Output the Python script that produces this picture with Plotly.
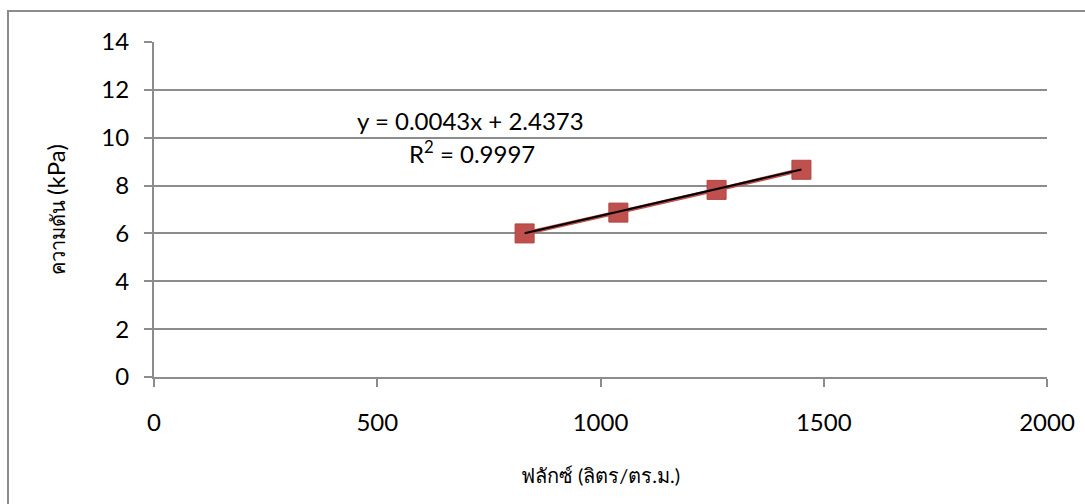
import plotly.graph_objects as go

# Measured flux vs. pressure
flux = [830, 1040, 1260, 1450]          # ลิตร/ตร.ม.
pressure = [6.0, 6.87, 7.82, 8.66]      # kPa

# Linear trendline coefficients (as printed on the chart)
slope = 0.0043
intercept = 2.4373
r_squared = 0.9997

x_ticks = [0, 500, 1000, 1500, 2000]
y_ticks = [0, 2, 4, 6, 8, 10, 12, 14]

W, H = 1085, 504
L, R, T, B = 154, 38, 42, 127
pw, ph = W - L - R, H - T - B

FONT = "Lato, Open Sans, Noto Sans, DejaVu Sans"
RED = "#C0504D"
GRID = "#8C8C8C"

trend_x = [min(flux), max(flux)]
trend_y = [slope * x + intercept for x in trend_x]

fig = go.Figure()
fig.add_trace(go.Scatter(
    x=flux, y=pressure, mode="lines+markers",
    line=dict(color=RED, width=4),
    marker=dict(symbol="square", size=19, color=RED,
                line=dict(color="#B04440", width=1)),
    showlegend=False, hoverinfo="x+y",
))
fig.add_trace(go.Scatter(
    x=trend_x, y=trend_y, mode="lines",
    line=dict(color="black", width=2),
    showlegend=False, hoverinfo="skip",
))

fig.update_layout(
    width=W, height=H,
    margin=dict(l=L, r=R, t=T, b=B, pad=0),
    paper_bgcolor="white", plot_bgcolor="white",
    font=dict(family=FONT, color="black", size=24),
    xaxis=dict(
        range=[0, 2000], tickvals=x_ticks, ticktext=[str(v) for v in x_ticks],
        automargin=False,
        showgrid=False, zeroline=False, showline=True, linecolor=GRID, linewidth=2,
        ticks="outside", ticklen=8, tickwidth=2, tickcolor=GRID,
        ticklabelstandoff=15, tickfont=dict(size=24),
        title=dict(text="ฟลักซ์ (ลิตร/ตร.ม.)", font=dict(size=20), standoff=34),
    ),
    yaxis=dict(
        range=[0, 14], tickvals=y_ticks, ticktext=[str(v) for v in y_ticks],
        automargin=False,
        showgrid=True, gridcolor=GRID, gridwidth=2,
        zeroline=False, showline=True, linecolor=GRID, linewidth=2,
        ticks="outside", ticklen=8, tickwidth=2, tickcolor=GRID,
        ticklabelstandoff=10, tickfont=dict(size=24),
        title=dict(text="ความดัน <span style='font-size:24px'>(kPa)</span>",
                   font=dict(size=20), standoff=30),
    ),
    annotations=[
        dict(x=708, y=10.72, xref="x", yref="y", showarrow=False,
             text=f"y = {slope}x + {intercept}", font=dict(size=24)),
        dict(x=712, y=9.4, xref="x", yref="y", showarrow=False,
             text=f"R<sup>2</sup> = {r_squared}", font=dict(size=24)),
    ],
    shapes=[
        # outer chart border
        dict(type="rect", xref="paper", yref="paper",
             x0=(8 - L) / pw, x1=(W + 5 - L) / pw,
             y0=-(B + 5) / ph, y1=(H - 11 - B) / ph,
             line=dict(color=GRID, width=2), fillcolor="rgba(0,0,0,0)", layer="below"),
    ],
)

fig.write_html("out.html")
